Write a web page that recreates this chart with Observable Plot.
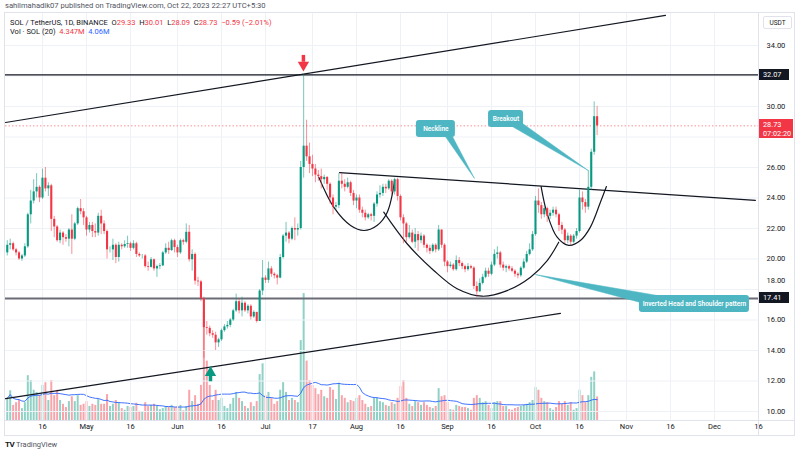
<!DOCTYPE html>
<html><head><meta charset="utf-8">
<script src="https://cdn.jsdelivr.net/npm/d3@7"></script>
<script src="https://cdn.jsdelivr.net/npm/@observablehq/plot@0.6"></script>
<style>
body{margin:0;background:#fff;font-family:Roboto,"Liberation Sans",sans-serif;}
#wrap{position:relative;width:800px;height:454px;overflow:hidden;background:#fff;}
#wrap svg{position:absolute;left:0;top:0;}
.abs{position:absolute;white-space:nowrap;line-height:1;}
</style></head><body><div id="wrap"></div>
<script>
// ---------- data ----------
const startDate = "2023-04-04";
const firstOpen = 20.4;
const closes = [
20.9,21.0,20.6,20.4,20.0,20.2,20.8,22.9,23.8,24.4,24.7,24.0,25.3,24.6,24.8,22.6,22.1,21.2,21.7,21.4,
21.3,21.9,21.3,22.3,23.3,23.1,22.7,21.9,22.2,21.8,21.7,22.8,22.3,21.8,20.6,20.6,20.9,20.1,20.9,20.8,
20.95,21.0,20.7,21.0,20.3,20.2,20.2,19.5,19.45,19.95,19.35,19.5,19.55,20.4,20.7,20.55,21.2,20.75,20.4,21.2,
21.1,21.75,19.95,20.3,18.55,18.5,17.4,15.5,15.45,15.1,15.0,14.5,14.7,15.3,15.55,15.65,16.0,16.6,17.2,16.6,
17.1,16.6,16.9,16.2,16.5,15.9,17.9,18.75,18.6,19.35,19.0,18.9,18.75,20.1,21.5,21.7,21.3,22.0,21.9,22.0,
26.0,27.4,26.7,26.2,25.9,25.5,25.4,25.2,25.35,24.9,24.0,23.4,23.5,25.1,24.9,24.7,25.0,24.3,23.8,24.0,
23.2,23.0,22.7,22.9,22.8,23.6,24.2,24.3,24.7,24.6,25.1,24.4,25.2,24.1,22.7,22.3,21.4,21.7,21.1,21.6,
21.2,21.5,20.9,20.7,20.5,20.9,20.6,21.9,20.9,19.8,19.5,19.6,19.3,19.9,19.7,19.5,19.3,19.5,19.4,18.2,
17.85,18.4,18.8,19.2,19.0,19.6,20.3,20.4,19.6,19.4,19.5,19.35,19.2,19.0,18.9,19.4,19.8,20.3,20.6,21.6,
23.8,23.5,22.9,23.3,22.8,23.0,23.2,22.9,22.2,21.9,21.2,21.5,21.1,21.5,21.8,24.0,23.7,23.4,24.7,27.0,
29.33,28.73];
const highs = [
21.2,21.3,21.1,20.7,20.5,20.3,21.0,23.0,24.5,25.2,25.6,24.8,25.9,26.0,25.0,24.9,22.8,22.2,21.9,21.8,
21.6,22.0,22.9,22.4,23.4,23.9,23.3,22.8,22.4,22.4,22.3,23.0,23.2,22.5,21.9,20.8,21.3,21.0,21.1,21.0,
21.2,21.5,21.1,21.2,21.1,20.4,20.3,20.3,19.8,20.1,20.0,19.6,19.7,20.5,21.0,21.1,21.3,21.3,20.9,21.3,
21.3,22.3,22.2,20.6,20.4,18.8,18.6,17.5,15.9,15.6,15.3,15.2,14.8,15.4,15.7,15.9,16.1,16.7,17.7,17.4,
17.5,17.2,17.0,17.0,16.6,16.5,18.0,19.9,18.9,19.8,19.5,19.1,19.0,20.3,21.6,22.4,21.8,22.1,22.7,22.3,
26.4,32.07,29.1,27.6,26.8,26.2,25.8,25.9,25.5,25.4,25.0,24.2,23.7,25.6,25.6,25.2,25.3,25.1,24.5,24.2,
24.2,23.4,23.2,23.0,23.0,23.7,24.4,24.8,24.9,24.9,25.2,25.2,25.3,25.3,24.2,22.9,22.4,22.2,21.9,22.0,
21.8,21.7,21.6,21.0,20.9,21.0,21.0,22.2,21.9,21.0,19.9,19.8,19.7,20.2,20.1,19.8,19.6,19.7,19.6,19.5,
18.5,18.7,19.0,19.4,19.4,19.8,20.6,20.8,20.5,19.8,19.6,19.6,19.5,19.3,19.1,19.5,20.0,20.5,21.0,21.8,
24.1,24.6,23.7,23.5,23.4,23.2,23.4,23.4,23.0,22.4,22.0,21.7,21.6,21.6,22.0,24.5,24.4,23.9,25.8,27.2,
30.3,30.01];
const lows = [
20.2,20.6,20.5,20.2,19.9,19.85,20.1,20.7,22.3,23.6,24.0,23.7,23.9,24.4,24.1,21.8,21.4,21.1,21.0,20.9,
21.1,20.8,20.3,21.2,22.2,22.9,22.2,21.5,21.7,21.4,21.4,21.5,21.6,21.6,20.0,20.4,19.9,19.7,19.8,20.6,
20.7,20.7,20.5,20.6,20.1,20.1,20.0,19.4,19.2,19.4,19.2,18.8,19.3,19.5,20.3,20.3,20.5,20.4,20.1,20.3,
20.9,21.0,19.8,19.2,18.3,18.2,17.2,13.5,15.0,14.9,14.8,14.0,14.2,14.6,15.2,15.4,15.5,15.9,16.5,16.4,
16.2,16.5,16.4,16.0,16.1,15.8,15.9,17.6,18.4,18.4,18.8,18.7,18.3,18.7,20.0,21.1,21.0,21.2,21.2,21.5,
21.9,25.3,26.4,25.6,25.4,25.0,25.1,24.6,24.9,24.5,23.6,22.9,23.2,23.3,24.6,24.4,24.6,24.1,23.5,23.3,
23.0,22.7,22.5,22.6,22.5,22.4,23.4,24.0,24.1,24.3,24.5,24.2,24.2,23.8,22.5,21.0,21.1,21.3,21.0,20.7,
20.5,21.0,20.7,20.4,20.3,20.4,20.4,20.5,20.7,19.5,19.1,19.4,19.2,19.2,19.5,19.3,19.1,19.2,19.3,18.0,
17.5,17.8,18.3,18.7,18.8,18.9,19.5,20.0,19.4,19.2,19.1,19.2,19.1,18.8,18.7,18.8,19.3,19.7,20.2,20.5,
21.5,23.0,22.6,22.7,22.4,22.6,22.8,22.7,21.8,21.6,21.0,21.0,20.9,21.0,21.3,21.7,23.2,23.0,23.2,24.5,
26.8,28.09];
// volume, millions of SOL
const volumes = [
4.1,5.5,2.8,3.3,3.7,2.2,3.3,8.3,7.4,5.6,5.2,4.6,6.5,7.0,3.7,7.4,4.6,5.6,3.7,
3.0,2.4,3.5,4.4,3.5,4.6,2.8,3.0,3.5,2.6,3.0,2.8,3.9,3.0,3.0,4.8,2.6,3.0,3.7,3.3,2.2,1.9,2.6,2.4,2.6,3.2,1.7,1.5,3.3,
2.6,2.8,3.0,2.6,2.0,2.2,2.6,2.4,2.8,2.4,2.6,2.8,1.8,2.6,5.6,3.5,4.6,3.0,6.5,
20.0,11.0,6.5,3.7,5.6,3.7,4.1,
2.6,2.2,3.0,4.1,5.2,4.1,3.5,2.6,2.2,3.3,2.6,3.5,
8.5,10.5,
4.6,5.2,4.1,3.0,3.5,5.6,7.0,5.2,3.7,4.1,3.7,3.3,
14.8,23.5,11.0,7.4,
6.5,5.9,4.8,5.6,4.4,4.1,6.1,5.6,3.9,6.9,4.6,
4.1,3.3,3.7,3.5,4.1,4.6,3.7,3.0,2.4,2.6,4.1,4.1,3.5,3.3,2.8,2.6,3.3,3.0,
4.1,6.3,7.4,
4.1,3.0,2.6,3.5,3.3,2.8,3.3,2.8,2.4,2.2,2.6,
5.9,4.4,4.6,
3.3,2.0,1.9,2.8,2.6,2.4,2.4,2.2,1.9,4.1,4.6,4.1,3.3,3.5,2.8,2.2,3.3,3.5,3.5,2.6,2.6,2.0,1.9,2.2,2.4,
2.6,2.8,3.0,3.3,3.7,6.1,
5.6,4.1,3.5,3.3,2.2,1.9,2.4,3.5,3.0,3.5,2.8,3.3,1.9,2.2,
5.6,4.6,3.3,4.6,8.0,9.0,4.35];

// axis ticks
const dateTicks = ["2023-04-16","2023-05-01","2023-05-16","2023-06-01","2023-06-16","2023-07-01","2023-07-17","2023-08-01","2023-08-16","2023-09-01","2023-09-16","2023-10-01","2023-10-16","2023-11-01","2023-11-16","2023-12-01","2023-12-16"];
const dateTickLabels = ["16","May","16","Jun","16","Jul","17","Aug","16","Sep","16","Oct","16","Nov","16","Dec","16"];
const priceTicks = [34,30,26,24,22,20,16,14,12,10];
const priceTickShifted = [18];
const gridPrices = [10,12,14,16,18,20,22,24,26,28,30,32,34];

// levels
const resistance = 32.07;
const support = 17.41;
const lastPrice = 28.73;

// drawn trendlines [date, price]
const upperChannel = [["2023-04-03T10:00Z",28.95],["2023-11-14T07:00Z",35.97]];
const lowerChannel = [["2023-04-03T10:00Z",10.85],["2023-10-09T12:00Z",16.43]];
const neckline = [["2023-07-26T05:00Z",25.67],["2023-12-14T22:00Z",23.84]];
const leftShoulderArc = [["2023-07-19T04:00Z",25.36],["2023-07-24T06:00Z",23.40],["2023-07-30T00:00Z",22.20],["2023-08-03T12:00Z",21.87],["2023-08-08T00:00Z",22.20],["2023-08-11T12:00Z",23.07],["2023-08-14T00:00Z",25.15]];
const headArc = [["2023-08-10T07:00Z",23.07],["2023-08-18T06:00Z",21.0],["2023-08-27T08:00Z",19.25],["2023-09-04T07:00Z",18.05],["2023-09-12T20:00Z",17.56],["2023-09-21T08:00Z",17.93],["2023-09-29T07:00Z",18.81],["2023-10-05T00:00Z",19.90],["2023-10-08T22:00Z",21.10]];
const rightShoulderArc = [["2023-10-02T22:00Z",24.75],["2023-10-05T00:00Z",22.96],["2023-10-08T09:00Z",21.43],["2023-10-12T08:00Z",20.89],["2023-10-16T07:00Z",21.21],["2023-10-19T17:00Z",22.09],["2023-10-23T03:00Z",23.72],["2023-10-25T04:00Z",24.75]];

// callouts
const calloutLabels = ["Neckline","Breakout","Inverted Head and Shoulder pattern"];
const calloutBoxes = [
  ["2023-08-21T10:00Z","2023-09-03T17:00Z",27.97,29.08],
  ["2023-09-15T00:00Z","2023-09-26T22:00Z",28.62,29.74],
  ["2023-11-05T10:00Z","2023-12-12T22:00Z",16.49,17.61]];
const calloutWedges = [
  [["2023-08-31T07:00Z",28.03],["2023-09-10T05:00Z",25.28],["2023-09-02T17:00Z",28.03]],
  [["2023-09-23T02:00Z",28.69],["2023-10-19T00:00Z",25.80],["2023-09-26T14:00Z",28.89]],
  [["2023-11-05T19:00Z",17.15],["2023-10-01T00:00Z",18.98],["2023-11-11T12:00Z",17.61]]];

// markers
const downArrow = {date:"2023-07-13T22:00Z", head:32.72, stemTop:33.35, stemBottom:32.9};
const upArrow = {date:"2023-06-12T06:00Z", head:12.55, stemTop:12.4, stemBottom:11.95};

// ---------- build ----------
const UP = "#089981", DOWN = "#f23645";
const day0 = new Date(startDate + "T00:00Z");
const candles = closes.map((c, i) => ({
  date: d3.utcDay.offset(day0, i),
  open: i ? closes[i - 1] : firstOpen,
  close: c, high: highs[i], low: lows[i], vol: volumes[i]
}));
candles.forEach(d => d.up = d.close >= d.open);
if (highs.length !== closes.length || lows.length !== closes.length || volumes.length !== closes.length)
  console.error("length mismatch", closes.length, highs.length, lows.length, volumes.length);

const pts = arr => arr.map(([d, p]) => ({date: new Date(d), price: p}));
const lineSets = [upperChannel, lowerChannel, neckline].flatMap((a, k) => pts(a).map(p => ({...p, k})));
const arcSets = [leftShoulderArc, headArc, rightShoulderArc].flatMap((a, k) => pts(a).map(p => ({...p, k})));
const boxes = calloutBoxes.map(([a, b, y1, y2], i) => ({x1: new Date(a), x2: new Date(b), y1, y2, label: calloutLabels[i],
  xm: new Date((new Date(a).getTime() + new Date(b).getTime()) / 2), ym: (y1 + y2) / 2}));
const wedges = calloutWedges.flatMap((w, k) => pts(w).map(p => ({...p, k})));

const W = 800, H = 454;
const margins = {marginTop: 12, marginBottom: 34, marginLeft: 5, marginRight: 42};
const xOpt = {type: "utc", domain: [new Date("2023-05-01T00:00Z"), new Date("2023-12-01T00:00Z")], range: [86, 714], axis: null};
const style = {background: "transparent", fontFamily: "Roboto, 'Liberation Sans', sans-serif", fontSize: "7.5px", overflow: "visible"};

const volPlot = Plot.plot({
  width: W, height: H, ...margins, style,
  x: xOpt,
  y: {domain: [0, 10], range: [420, 366], axis: null},
  marks: [
    Plot.ruleX(candles, {x: "date", y1: 0, y2: "vol", stroke: d => d.up ? UP : DOWN, strokeOpacity: 0.45, strokeWidth: 2}),
    Plot.lineY(candles, Plot.windowY({k: 20, anchor: "end", strict: false}, {x: "date", y: "vol", stroke: "#2962ff", strokeWidth: 0.9, curve: "linear"}))
  ]
});

const pricePlot = Plot.plot({
  width: W, height: H, ...margins, style,
  x: xOpt,
  y: {domain: [10, 34], range: [411, 45], axis: null},
  marks: [
    Plot.ruleX(dateTicks.map(d => new Date(d + "T00:00Z")), {stroke: "#eef1f6", strokeWidth: 1}),
    Plot.ruleY(gridPrices, {stroke: "#eef1f6", strokeWidth: 1}),
    Plot.ruleY([lastPrice], {stroke: DOWN, strokeOpacity: 0.55, strokeDasharray: "1.5,2", strokeWidth: 1}),
    Plot.ruleY([support], {stroke: "#6a6d78", strokeWidth: 2}),
    Plot.ruleY([resistance], {stroke: "#131722", strokeWidth: 1.2}),
    Plot.line(lineSets, {x: "date", y: "price", z: "k", stroke: "#131722", strokeWidth: 1.2}),
    Plot.line(arcSets, {x: "date", y: "price", z: "k", stroke: "#131722", strokeWidth: 1.2, curve: "catmull-rom"}),
    // candles
    Plot.ruleX(candles, {x: "date", y1: "low", y2: "high", stroke: d => d.up ? UP : DOWN, strokeOpacity: 0.55, strokeWidth: 1}),
    Plot.ruleX(candles, {x: "date", y1: "open", y2: "close", stroke: d => d.up ? UP : DOWN, strokeWidth: 2.1}),
    // callouts
    Plot.line(wedges, {x: "date", y: "price", z: "k", fill: "#4db6c2", stroke: "#4db6c2", strokeWidth: 0.5}),
    Plot.rect(boxes, {x1: "x1", x2: "x2", y1: "y1", y2: "y2", fill: "#4db6c2", rx: 3}),
    Plot.text(boxes, {x: "xm", y: "ym", text: "label", fill: "white", fontSize: 6.5, fontWeight: 600}),
    // arrows
    Plot.ruleX([downArrow], {x: d => new Date(d.date), y1: "stemBottom", y2: "stemTop", stroke: DOWN, strokeWidth: 3.5}),
    Plot.dot([downArrow], {x: d => new Date(d.date), y: "head", symbol: "triangle", rotate: 180, r: 4.2, fill: DOWN, stroke: "none"}),
    Plot.ruleX([upArrow], {x: d => new Date(d.date), y1: "stemBottom", y2: "stemTop", stroke: UP, strokeWidth: 3.5}),
    Plot.dot([upArrow], {x: d => new Date(d.date), y: "head", symbol: "triangle", r: 4.2, fill: UP, stroke: "none"}),
    // axes labels
    Plot.text(dateTicks, {x: d => new Date(d + "T00:00Z"), text: (d, i) => dateTickLabels[i], frameAnchor: "bottom", dy: 8, fill: "#131722", fontSize: 7.5}),
    Plot.text(priceTicks, {y: d => d, text: d => d.toFixed(2), frameAnchor: "right", dx: 8, textAnchor: "start", fill: "#131722", fontSize: 7.5}),
    Plot.text(priceTickShifted, {y: d => d, text: d => d.toFixed(2), frameAnchor: "right", dx: 8, dy: -9, textAnchor: "start", fill: "#131722", fontSize: 7.5})
  ]
});

const wrap = document.getElementById("wrap");
wrap.appendChild(volPlot);
wrap.appendChild(pricePlot);

// frame lines
function div(css, html) { const e = document.createElement("div"); e.className = "abs"; e.style.cssText = css; if (html) e.innerHTML = html; wrap.appendChild(e); return e; }
div("left:4px;top:12px;width:791px;height:424px;border:1px solid #e0e3eb;box-sizing:border-box;");
div("left:758px;top:12px;width:1px;height:424px;background:#e0e3eb;");
div("left:4px;top:420px;width:791px;height:1px;background:#e0e3eb;");

// header / legend / footer
div("left:5px;top:2px;font-size:7.6px;color:#50535e;", "sahilmahadik07 published on TradingView.com, Oct 22, 2023 22:27 UTC+5:30");
div("left:10px;top:19px;font-size:7.5px;color:#131722;",
  "SOL / TetherUS, 1D, BINANCE&nbsp; O<span style='color:#f23645'>29.33</span>&nbsp; H<span style='color:#f23645'>30.01</span>&nbsp; L<span style='color:#f23645'>28.09</span>&nbsp; C<span style='color:#f23645'>28.73</span>&nbsp; <span style='color:#f23645'>−0.59 (−2.01%)</span>");
div("left:10px;top:28px;font-size:7.5px;color:#131722;",
  "Vol · SOL (20)&nbsp; <span style='color:#f23645'>4.347M</span>&nbsp; <span style='color:#2962ff'>4.06M</span>");
div("left:763px;top:16px;width:29px;height:13px;border:1px solid #e0e3eb;border-radius:2px;box-sizing:border-box;font-size:6.5px;color:#131722;text-align:center;line-height:12px;background:#fff;", "USDT");
div("left:5px;top:441px;font-size:7.5px;color:#50535e;", "<b style='color:#131722;font-size:8px;letter-spacing:-0.5px'>TV</b> TradingView");

// price label boxes on right axis positioned by the y scale
const ys = pricePlot.scale("y");
function tag(v, bg, lines) {
  const y = ys.apply(v);
  const h = lines.length > 1 ? 19 : 11;
  const top = lines.length > 1 ? y - 6 : y - 5.5;
  div(`left:759px;top:${top}px;width:${lines.length > 1 ? 34 : 30}px;height:${h}px;background:${bg};color:#fff;font-size:7.3px;padding-left:4px;box-sizing:border-box;line-height:${lines.length > 1 ? 9 : 11}px;padding-top:${lines.length > 1 ? 1 : 0}px;`, lines.join("<br>"));
}
tag(resistance, "#131722", [resistance.toFixed(2)]);
tag(support, "#131722", [support.toFixed(2)]);
tag(lastPrice, "#f23645", [lastPrice.toFixed(2), "07:02:20"]);
</script></body></html>
